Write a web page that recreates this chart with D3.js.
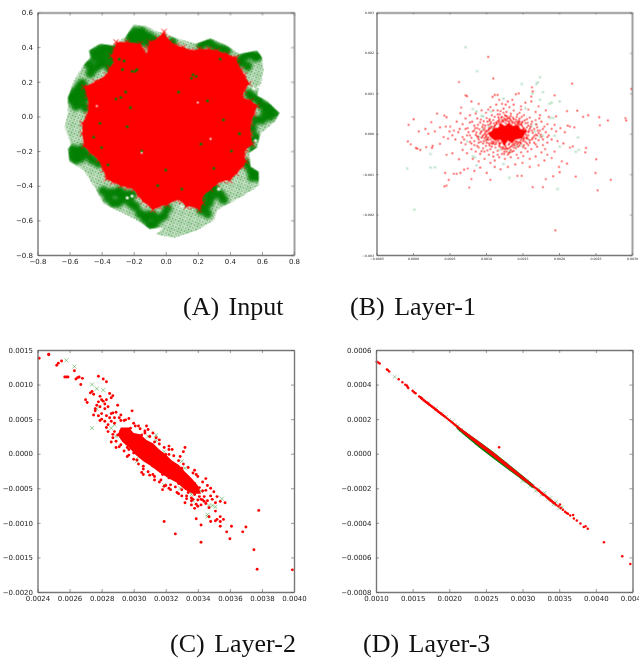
<!DOCTYPE html>
<html>
<head>
<meta charset="utf-8">
<script src="https://d3js.org/d3.v7.min.js"></script>
<style>
    html, body { margin: 0; padding: 0; background: #fff; overflow: hidden; }
    svg { display: block; }
    .plot { filter: blur(0.3px); }
    .soft { filter: blur(1.6px); }
    .tick text { font-family: "DejaVu Sans", sans-serif; fill: #222; }
    .caption { font-family: "Liberation Serif", serif; font-size: 26px; word-spacing: 3px; fill: #111; }
</style>
</head>
<body>
<div id="chart"></div>

<script>
    // Panel A (Input): outlines of the two dense clouds plus spots
    var inputGreenOutline = [[-.20,.53],[-.12,.52],[-.06,.49],[-.01,.48],[.07,.45],[.19,.42],[.28,.45],[.38,.41],[.46,.36],[.57,.38],[.60,.34],[.61,.27],[.60,.21],[.57,.12],[.63,.09],[.71,.02],[.68,-.03],[.59,-.10],[.57,-.18],[.52,-.21],[.53,-.29],[.58,-.32],[.58,-.40],[.48,-.46],[.40,-.50],[.32,-.54],[.30,-.60],[.19,-.66],[.05,-.70],[-.06,-.68],[-.01,-.64],[-.10,-.65],[-.16,-.61],[-.24,-.57],[-.33,-.53],[-.39,-.50],[-.43,-.43],[-.51,-.31],[-.60,-.26],[-.61,-.19],[-.59,-.16],[-.63,-.06],[-.61,.02],[-.61,.11],[-.57,.21],[-.51,.30],[-.47,.34],[-.48,.38],[-.41,.42],[-.33,.41],[-.25,.46]];
    var inputRedOutline = [[-.01,.49],[.01,.45],[.03,.43],[.07,.41],[.11,.40],[.16,.38],[.21,.39],[.27,.39],[.32,.38],[.38,.36],[.44,.34],[.45,.30],[.47,.27],[.49,.24],[.52,.19],[.49,.15],[.48,.11],[.53,.09],[.57,.06],[.55,.01],[.53,-.04],[.53,-.10],[.54,-.16],[.50,-.19],[.49,-.22],[.50,-.26],[.48,-.29],[.44,-.33],[.40,-.37],[.36,-.37],[.32,-.39],[.28,-.42],[.23,-.46],[.23,-.50],[.21,-.54],[.17,-.52],[.13,-.52],[.10,-.49],[.07,-.48],[.01,-.51],[-.04,-.52],[-.08,-.54],[-.11,-.51],[-.14,-.49],[-.17,-.46],[-.20,-.42],[-.24,-.41],[-.28,-.40],[-.33,-.38],[-.37,-.36],[-.39,-.31],[-.42,-.25],[-.47,-.21],[-.51,-.17],[-.52,-.10],[-.52,-.04],[-.49,.01],[-.48,.06],[-.49,.12],[-.51,.17],[-.44,.20],[-.37,.24],[-.35,.28],[-.32,.31],[-.34,.35],[-.32,.39],[-.31,.43],[-.24,.43],[-.16,.42],[-.14,.39],[-.12,.36],[-.11,.40],[-.10,.43],[-.05,.45]];
    var inputGreenDense = [[-.22,.47],[-.19,.45],[-.16,.47],[-.13,.47],[-.10,.46],[-.07,.44],[-.22,.44],[-.17,.43],[-.13,.43],[-.09,.42],[-.19,.49],[-.15,.49],
        [-.45,.37],[-.41,.39],[-.37,.40],[-.33,.39],[-.44,.34],[-.40,.35],[-.36,.36],[-.33,.33],[-.38,.31],[-.35,.28],[-.41,.30],[-.32,.25],
        [-.60,.11],[-.57,.14],[-.54,.17],[-.58,.09],[-.55,.12],[-.52,.14],[-.50,.11],[-.56,.06],[-.53,.08],[-.50,.05],[-.48,.15],[-.52,.19],
        [-.59,-.23],[-.56,-.25],[-.53,-.24],[-.58,-.19],[-.55,-.20],[-.52,-.19],[-.49,-.22],[-.46,-.25],[-.42,-.27],
        [-.39,-.43],[-.36,-.47],[-.33,-.50],[-.30,-.50],[-.27,-.48],[-.34,-.44],[-.30,-.44],[-.25,-.45],
        [-.16,-.56],[-.13,-.59],[-.10,-.63],[-.07,-.62],[-.04,-.59],[-.01,-.57],[.01,-.53],[-.08,-.57],[-.11,-.57],
        [.21,-.50],[.24,-.52],[.27,-.50],[.29,-.46],[.25,-.46],[.28,-.42],[.22,-.54],[.26,-.56],[.30,-.41],
        [.22,.41],[.25,.43],[.28,.42],[.31,.40],[.35,.39],[.38,.38],[.50,.35],[.53,.36],[.56,.34],[.58,.35],[.47,.33],
        [.59,.07],[.62,.06],[.65,.05],[.68,.02],[.62,.02],[.65,.00],[.60,-.02],[.58,.10],[.54,.11],[.52,.13],
        [.53,-.31],[.56,-.33],[.54,-.35],[.57,-.35],[.50,-.27],[.54,-.07],[.56,-.12],[.04,.43],
        [-.47,.25],[-.44,.28],[-.48,.30],[-.29,-.43],[-.21,-.45],[-.19,-.52],[-.22,-.50],[.46,.31],[.51,.29],[.34,-.45],[.36,-.48],[.56,-.02],[.55,-.20],[.52,-.15]];
    var inputGreenSpecks = [[-.19,.26],[-.18,.27],[-.21,.26],[-.25,.14],[-.31,.10],[-.26,.32],[-.41,-.04],[-.24,-.06],[-.15,-.20],[.17,.24],[.22,-.16],[.26,.09],[.34,.33],[.46,-.10],[-.45,-.12],[-.05,-.40],[0,-.31],[.19,.23],[-.28,.11],[-.40,-.18],[-.29,.33],[-.27,.27],[.16,.22],[.36,-.02],[.41,-.20],[.10,-.42],[.08,.14],[-.36,-.28],[-.22,.05],[.30,-.30]];
    var inputWhiteSpecks = [[-.43,.06],[.20,.08],[.28,-.13],[-.15,-.21],[.55,.16],[.56,-.14],[.10,-.52],[.33,-.42],[-.21,-.46],[-.24,-.47],[-.45,0],[.58,.17],[.47,-.19]];

    // Panels B, C, D: values below are in units of 1e-5
    var layer1Core = [[102,2],[108,7],[110,14],[117,15],[120,26],[126,19],[131,27],[137,19],[144,22],[147,12],[156,8],[153,-2],[149,-12],[140,-14],[136,-24],[130,-17],[125,-30],[120,-15],[112,-17],[106,-8]];
    var layer1Red = [[103,190],[110,137],[63,128],[218,124],[299,111],[72,95],[74,93],[163,115],[164,105],[109,91],[112,96],[116,96],[80,80],[145,100],[141,98],[118,84],[194,95],[154,77],[162,80],[66,65],[90,74],[33,50],[211,56],[225,57],[43,45],[46,41],[65,51],[1,36],[-6,22],[233,42],[240,46],[255,41],[267,33],[291,39],[292,33],[256,21],[25,29],[30,6],[17,12],[8,6],[21,0],[37,16],[51,18],[45,18],[-7,-19],[-3,-26],[4,-35],[6,-37],[10,-40],[18,-33],[26,-35],[37,-25],[27,-30],[46,-52],[54,-48],[63,-63],[44,-97],[56,-99],[60,-99],[49,-114],[65,-97],[70,-89],[75,-86],[43,-130],[46,-128],[77,-133],[80,-112],[101,-97],[106,-114],[143,-104],[149,-104],[164,-132],[178,-132],[182,-112],[201,-95],[192,-105],[223,-106],[251,-63],[250,-97],[271,-114],[253,-140],[195,-239],[211,-74],[200,-82],[204,-68],[237,-35],[236,-46],[219,-31],[215,18],[212,20],[221,16],[215,-34],[196,43],[194,22],
        [60,30],[68,24],[72,12],[78,28],[84,20],[82,6],[88,14],[92,28],[96,22],[74,-4],[80,-10],[86,-3],[90,-14],[94,6],[98,14],[100,-6],[68,-8],[62,4],[56,8],[58,-14],[66,-22],[72,-26],[78,-20],[84,-28],[90,-34],[96,-24],[100,-16],[104,-24],[108,-32],[112,-26],[102,30],[106,24],[110,34],[114,28],[118,36],[122,42],[126,34],[130,38],[134,44],[138,36],[142,30],[146,38],[150,30],[154,26],[158,20],[162,24],[166,12],[170,16],[174,8],[178,12],[182,4],[186,-4],[176,-8],[170,-4],[164,-10],[160,-16],[154,-20],[148,-24],[142,-26],[138,-34],[134,-40],[128,-44],[122,-38],[118,-30],[116,-42],[110,-46],[104,-52],[98,-44],[92,-50],[86,-44],[80,-38],[74,-48],[68,-40],[108,46],[100,52],[94,58],[86,50],[78,46],[72,38],[116,58],[124,62],[132,66],[128,54],[138,58],[146,52],[152,46],[160,40],[168,34],[176,30],[184,24],[190,12],[196,6],[202,14],[208,4],[190,-14],[184,-22],[178,-28],[170,-32],[162,-38],[154,-36],[148,-46],[142,-52],[134,-58],[126,-62],[118,-58],[112,-66],[106,-72],[98,-62],[90,-68],[82,-62],[122,74],[114,72],[106,66],[130,80],[138,72],[148,68],[158,60],[168,54],[174,46],[182,58],[172,68],[162,92],[186,42],[198,-18],[206,-24],[194,-44],[184,-52],[176,-46],[168,-56],[160,-62],[150,-72],[140,-76],[130,-82],[120,-88],[112,-82],[92,-84],[84,-92],[160,-82],[172,-78],[180,-66],[190,-60],
        [112,6],[116,12],[120,-8],[114,-4],[108,-6],[158,4],[160,12],[156,-8],[154,10],[100,8],[96,-4],[104,14],[102,-12],[108,18],[112,20],[118,26],[124,30],[132,28],[140,24],[146,22],[150,18],[156,16],[152,-14],[146,-20],[140,-22],[132,-24],[126,-28],[120,-22],[114,-20],[108,-18],[164,2],[168,-2],[172,2],[92,0],[88,-6],[84,8],[94,-10],[128,-36],[136,-28],[144,-32],[150,-12],[152,-28],[158,-28],[122,-50],[130,-52],[116,48],[126,46],[134,50],[142,42],[166,-22],[172,-16],[178,-14],[120,24],[128,32],[136,30],[144,28],[100,-30],[96,-36],[106,-38],[90,-22],[84,-18],[76,4],[70,-14],[64,12],[54,-4],[50,6],[48,-12],[42,-8],
        [99,3],[97,9],[101,-2],[103,-9],[106,-13],[110,-11],[111,-20],[117,-18],[119,-26],[124,-24],[127,-32],[131,-27],[129,-38],[133,-33],[138,-25],[141,-18],[144,-24],[148,-16],[152,-9],[155,-3],[157,-12],[159,7],[155,6],[152,14],[149,21],[145,26],[141,19],[136,26],[131,31],[127,26],[122,34],[119,21],[115,25],[111,17],[106,13],[103,8],[93,4],[95,-7],[98,-11],[91,11],[95,17],[99,20],[103,22],[107,28],[111,26],[116,31],[121,29],[125,38],[129,43],[133,37],[137,40],[141,35],[145,33],[149,27],[153,33],[157,27],[161,17],[163,8],[166,-6],[163,-14],[160,-22],[156,-24],[151,-33],[146,-29],[141,-36],[136,-44],[131,-48],[125,-44],[120,-33],[113,-34],[109,-25],[105,-29],[101,-22],[97,-18],[93,-20],[89,-9],[87,3],[85,14],[89,22],[93,35],[97,31],[101,39],[105,36],[112,42],[119,48],[124,52],[120,56],[143,48],[149,42],[156,36],[163,30],[169,23],[171,8],[175,-2],[168,-12],[168,-26],[157,-44],[151,-55],[144,-60],[116,-52],[110,-56],[102,-41],[94,-43],[88,-30],[80,-24],[78,-4],[75,14],[81,30],[88,38],[103,60],[110,58],[127,72],[136,84],[148,60],[173,38],[180,18],[184,-8],[181,-38],
        [104,10],[107,16],[113,22],[118,31],[123,33],[128,36],[134,33],[139,28],[143,24],[148,24],[151,12],[154,4],[158,-4],[155,-11],[151,-18],[147,-22],[143,-20],[139,-29],[135,-31],[131,-36],[126,-38],[123,-33],[118,-24],[114,-25],[110,-22],[107,-23],[103,-15],[100,-8],[98,-1],[101,6],[121,40],[127,44],[132,40],[125,-50],[133,-46],[124,-36],[138,-42],[105,32],[117,41],[146,30]];
    var layer1Green = [[72,214],[88,155],[174,140],[149,123],[169,123],[171,127],[178,103],[164,100],[174,84],[201,80],[190,77],[187,74],[124,87],[-8,-86],[24,-50],[24,-84],[30,-83],[2,-188],[198,-137],[132,-109],[124,-75],[87,-78],[227,-40],[223,-45],[226,-9],[201,-32],[194,-5],[188,39],[192,39],[94,44],[96,43],[87,55],[82,61],[107,55],[154,63],[74,-19],[82,-56],[85,-58],[105,18],[110,14],[162,18],[167,6],[174,-7],[178,-5],[158,-15],[142,-31],[132,-44],[119,-40],[101,-15],[91,-7],[96,12],[168,24],[150,-30]];

    var layer2Core = [[292,38],[297,38],[300,30],[304,28],[308,20],[312,15],[316,6],[320,-1],[324,-10],[328,-16],[332,-26],[336,-35],[340,-46],[342,-58],[337,-58],[332,-52],[327,-42],[322,-36],[316,-27],[311,-18],[306,-11],[301,-1],[297,9],[293,17],[290,27]];
    var layer2Red = [[241,138],[247,144],[247,143],[252,128],[253,131],[255,134],[257,111],[258,111],[259,111],[263,120],[264,108],[265,110],[266,111],[267,100],[268,109],[270,78],[271,74],[273,88],[274,90],[275,86],[278,112],[281,108],[283,104],[285,87],[287,84],[286,81],[279,83],[280,78],[281,76],[282,72],[283,78],[276,62],[276,65],[279,68],[282,65],[284,68],[290,70],[299,62],[292,56],[287,59],[285,52],[288,44],[282,47],[279,48],[284,42],[288,32],[290,27],[291,10],[312,30],[314,23],[308,40],[303,40],[322,6],[324,6],[331,3],[332,9],[319,-98],[326,-116],[342,-128],[342,-103],[339,-94],[333,-61],[332,-71],[336,-74],[339,-73],[338,-79],[342,-74],[343,-67],[341,-62],[345,-53],[348,-61],[351,-71],[351,-83],[354,-69],[357,-71],[347,-91],[348,-98],[351,-97],[352,-95],[354,-91],[354,-98],[354,-105],[356,-95],[358,-113],[361,-105],[360,-123],[368,-113],[370,-106],[378,-82],[375,-139],[377,-167],[399,-168],
        [339,-30],[334,-36],[336,-40],[338,-43],[312,-30],[305,-27],[319,-47],[323,-45],[292,33],[296,9],[300,1],[304,-1],[298,13],[328,-33],[331,-40],[328,-43],[322,-35],[318,-30],[312,-18],[318,-20],[316,-1],[320,-1],[324,-13],[330,-21],[310,8],[306,18],[305,27],[298,37],[295,49],[291,52],[288,52],[287,23],[291,28],[294,20],[297,6],[302,-9],[306,-18],[309,-26],[313,-33],[317,-38],[341,-49],[343,-54],[338,-59],[336,-64],[340,-67],
        [277,70],[275,56],[283,55],[286,58],[289,60],[292,48],[286,47],[280,58],[278,75],[322,-50],[326,-48],[330,-52],[344,-62],[346,-68],[340,-76],[336,-68],[334,-56],[340,-54],[345,-72],
        [294,48],[297,51],[301,40],[304,36],[307,33],[310,25],[313,17],[316,14],[319,9],[322,-1],[325,-3],[328,-10],[331,-15],[334,-20],[337,-28],[340,-33],[343,-41],[346,-46],[348,-50],[350,-55],[349,-66],[344,-69],[342,-66],[337,-66],[333,-65],[330,-61],[327,-56],[323,-52],[320,-46],[316,-41],[313,-38],[310,-31],[306,-22],[303,-15],[300,-8],[297,-2],[294,4],[292,13],[289,18],[287,28],[284,32],[283,38],[280,50],[278,55],[300,44],[307,30],[309,35],[316,20],[322,11],[329,-4],[338,-24],[345,-36],[352,-62],[347,-78],[328,-58],[318,-52],[306,-30],[296,-4],[289,9],[286,17]];
    var layer2Green = [[258,135],[263,126],[274,100],[277,94],[281,92],[274,37],[277,65],[286,37],[289,25],[296,15],[302,-11],[304,-4],[309,25],[314,27],[314,19],[319,3],[330,-11],[332,-21],[328,-20],[319,-45],[329,-50],[336,-59],[338,-47],[342,-54],[337,-68],[355,-65],[347,-75],[349,-75],[351,-77],[346,-88],[346,-91],[288,42],[300,18],[303,-4],[312,-16],[323,-30],[335,-55]];

    var layer3GreenCore = [[210,16],[220,13.4],[240,7.4],[260,1.2],[280,-5.6],[300,-12.6],[315,-17.8],[315,-20.2],[300,-15.4],[280,-9.2],[260,-2.8],[240,3.8],[220,10.8],[210,14.4]];
    var layer3RedCore = [[160,33.2],[195,21.8],[220,13.4],[240,7.2],[260,0.8],[280,-5.9],[300,-12.9],[325,-21.6],[345,-28.4],[345,-29.6],[325,-22.8],[300,-15],[280,-8.4],[260,-1.8],[240,4.8],[220,11.6],[195,20.4],[160,31.8]];
    var layer3Red = [[101,53.2],[103,52.8],[105,52.2],[115,48.7],[116,48.4],[118,47.6],[131,43.1],[136,41.4],[140,39.9],[142,39.5],[143,38.7],[144,38],[150,36.4],[152,35.6],[154,35],[159,33.1],[161,32.6],[163,31.9],[165,31.1],[167,30.4],[169,29.8],[171,29.2],[173,28.3],[175,27.7],[177,27.1],[179,26.4],[181,25.7],[183,25.2],[185,24.3],[187,23.7],[189,23.1],[191,22.4],[193,21.8],[268,3.8],[322,-21.4],[324,-22],[326,-22.9],[328,-23.6],[330,-24.1],[332,-24.8],[334,-25.5],[336,-26.2],[338,-27],[340,-27.7],[342,-28.3],[344,-28.8],[346,-29.7],[349,-30.4],[351,-29.4],[352,-31.4],[355,-32.4],[358,-33.6],[360,-34.3],[362,-34.8],[365,-35.8],[369,-35.4],[370,-37.5],[374,-38.7],[379,-40.4],[383.5,-42.4],[386,-42],[389,-43.4],[411,-51.2],[436,-59.3],[447,-63.8]];
    var layer3Green = [[125.5,44.5],[172,29.4],[182,26.2],[190,23.2],[196,21.4],[200,19.6],[204,18.6],[208,16.8],[212,16],[216,13.8],[300,-15.8],[306,-16],[310,-18.6],[314,-18.6],[318,-21.6],[322,-20.4],[326,-23.8],[330,-22.6],[334,-26.4],[338,-25.6],[342,-29.4],[346,-27.8],[350,-31.6],[354,-31]];

    // tick labels of each panel
    var xTicksA = [-0.8, -0.6, -0.4, -0.2, 0, 0.2, 0.4, 0.6, 0.8];
    var yTicksA = [-0.8, -0.6, -0.4, -0.2, 0, 0.2, 0.4, 0.6];
    var xTicksB = [-0.0005, 0, 0.0005, 0.001, 0.0015, 0.002, 0.0025, 0.003];
    var yTicksB = [-0.003, -0.002, -0.001, 0, 0.001, 0.002, 0.003];
    var xTicksC = [0.0024, 0.0026, 0.0028, 0.003, 0.0032, 0.0034, 0.0036, 0.0038, 0.004];
    var yTicksC = [-0.002, -0.0015, -0.001, -0.0005, 0, 0.0005, 0.001, 0.0015];
    var xTicksD = [0.001, 0.0015, 0.002, 0.0025, 0.003, 0.0035, 0.004, 0.0045];
    var yTicksD = [-0.0008, -0.0006, -0.0004, -0.0002, 0, 0.0002, 0.0004, 0.0006];

    var captions = ['(A) Input', '(B) Layer-1', '(C) Layer-2', '(D) Layer-3'];

    var width = 639;
    var height = 660;
    var red = '#ff0000';
    var green = '#008000';

    var svg = d3.select('#chart').append('svg')
        .attr('width', width)
        .attr('height', height);

    var defs = svg.append('defs');

    // x marks repeated over the green cloud of panel A
    var pattern = defs.append('pattern')
        .attr('id', 'xmarks')
        .attr('patternUnits', 'userSpaceOnUse')
        .attr('patternTransform', 'rotate(25)')
        .attr('width', 3.2)
        .attr('height', 3.2);
    pattern.append('path')
        .attr('d', 'M0.3,0.3L2.9,2.9M2.9,0.3L0.3,2.9')
        .attr('stroke', '#128212')
        .attr('stroke-width', 0.7);

    function panel(box, xDomain, yDomain, xTicks, yTicks, xFmt, yFmt, fontSize) {
        var w = box.right - box.left;
        var h = box.bottom - box.top;
        var g = svg.append('g')
            .attr('class', 'plot')
            .attr('transform', 'translate(' + box.left + ',' + box.top + ')');
        var x = d3.scaleLinear().domain(xDomain).range([0, w]);
        var y = d3.scaleLinear().domain(yDomain).range([h, 0]);
        var marks = g.append('g');

        var tickLen = fontSize < 5 ? 2 : 3;
        var axes = [
            [d3.axisBottom(x).tickFormat(d3.format(xFmt)), 0, h],
            [d3.axisLeft(y).tickFormat(d3.format(yFmt)), 0, 0],
            [d3.axisTop(x).tickFormat(''), 0, 0],
            [d3.axisRight(y).tickFormat(''), w, 0]
        ];
        axes.forEach(function(a, i) {
            var ax = g.append('g')
                .attr('transform', 'translate(' + a[1] + ',' + a[2] + ')')
                .call(a[0].tickValues(i % 2 === 0 ? xTicks : yTicks).tickSizeInner(-tickLen).tickSizeOuter(0).tickPadding(fontSize < 5 ? 2.5 : 4.5));
            ax.selectAll('.domain').attr('stroke', '#777').attr('stroke-width', 1.4);
            ax.selectAll('.tick line').attr('stroke', '#555').attr('stroke-width', 0.6);
            ax.selectAll('.tick text').style('font-size', fontSize + 'px');
        });
        return { g: marks, x: x, y: y };
    }

    function polygon(p, pts, scale, fill) {
        var pen = d3.line()
            .x(function(d) { return p.x(d[0] * scale); })
            .y(function(d) { return p.y(d[1] * scale); })
            .curve(d3.curveLinearClosed);
        return p.g.append('path').attr('d', pen(pts)).attr('fill', fill);
    }

    function dots(p, pts, scale, r, color, opacity, parent) {
        return (parent || p.g).append('g').selectAll('circle')
            .data(pts)
            .enter()
            .append('circle')
            .attr('cx', function(d) { return p.x(d[0] * scale); })
            .attr('cy', function(d) { return p.y(d[1] * scale); })
            .attr('r', r)
            .attr('fill', color)
            .attr('opacity', opacity);
    }

    function crosses(p, pts, scale, s, color, sw, opacity) {
        var sym = 'M' + (-s) + ',' + (-s) + 'L' + s + ',' + s + 'M' + s + ',' + (-s) + 'L' + (-s) + ',' + s;
        p.g.append('g').selectAll('path')
            .data(pts)
            .enter()
            .append('path')
            .attr('transform', function(d) { return 'translate(' + p.x(d[0] * scale) + ',' + p.y(d[1] * scale) + ')'; })
            .attr('d', sym)
            .attr('stroke', color)
            .attr('stroke-width', sw)
            .attr('fill', 'none')
            .attr('opacity', opacity);
    }

    // A
    var a = panel({ left: 37.5, right: 294, top: 12.5, bottom: 255 }, [-0.8, 0.8], [-0.8, 0.6], xTicksA, yTicksA, '.1f', '.1f', 7);
    polygon(a, inputGreenOutline, 1, 'url(#xmarks)');
    // the heavy green bands, kept inside the cloud outline
    var lineA = d3.line()
        .x(function(d) { return a.x(d[0]); })
        .y(function(d) { return a.y(d[1]); })
        .curve(d3.curveLinearClosed);
    defs.append('clipPath').attr('id', 'cloudA').append('path').attr('d', lineA(inputGreenOutline));
    var denseA = a.g.append('g').attr('clip-path', 'url(#cloudA)').append('g').attr('class', 'soft');
    dots(a, inputGreenDense, 1, 5, green, 0.95, denseA);
    dots(a, inputWhiteSpecks.slice(4), 1, 1.6, '#fff', 0.9);
    polygon(a, inputRedOutline, 1, red);
    crosses(a, inputRedOutline, 1, 2.6, red, 1, 1);
    dots(a, inputGreenSpecks, 1, 1.4, green, 1);
    dots(a, inputWhiteSpecks.slice(0, 4), 1, 1.1, '#fff', 0.9);

    // B
    var b = panel({ left: 376.5, right: 632, top: 12.5, bottom: 255 }, [-0.0005, 0.003], [-0.003, 0.003], xTicksB, yTicksB, '.4f', '.3f', 3.2);
    crosses(b, layer1Green, 1e-5, 1.1, '#3fae68', 0.8, 0.6);
    dots(b, layer1Red, 1e-5, 0.85, red, 1);
    polygon(b, layer1Core, 1e-5, red);

    // C
    var c = panel({ left: 37.5, right: 294, top: 350, bottom: 592 }, [0.0024, 0.004], [-0.002, 0.0015], xTicksC, yTicksC, '.4f', '.4f', 7);
    crosses(c, layer2Green, 1e-5, 2, '#4aa34a', 0.7, 0.8);
    polygon(c, layer2Core, 1e-5, red);
    dots(c, layer2Red, 1e-5, 1.45, red, 1);

    // D
    var d = panel({ left: 376, right: 632.5, top: 350, bottom: 592 }, [0.001, 0.0045], [-0.0008, 0.0006], xTicksD, yTicksD, '.4f', '.4f', 7);
    crosses(d, layer3Green, 1e-5, 1.8, '#4aa34a', 0.7, 0.7);
    polygon(d, layer3GreenCore, 1e-5, green);
    polygon(d, layer3RedCore, 1e-5, red);
    dots(d, layer3Red, 1e-5, 1.25, red, 1);

    // captions
    var captionAnchors = [[183, 315], [350, 315], [170, 652], [363, 652]];
    svg.selectAll('text.caption')
        .data(captions)
        .enter()
        .append('text')
        .attr('class', 'caption')
        .attr('x', function(t, i) { return captionAnchors[i][0]; })
        .attr('y', function(t, i) { return captionAnchors[i][1]; })
        .text(function(t) { return t; });
</script>
</body>
</html>
